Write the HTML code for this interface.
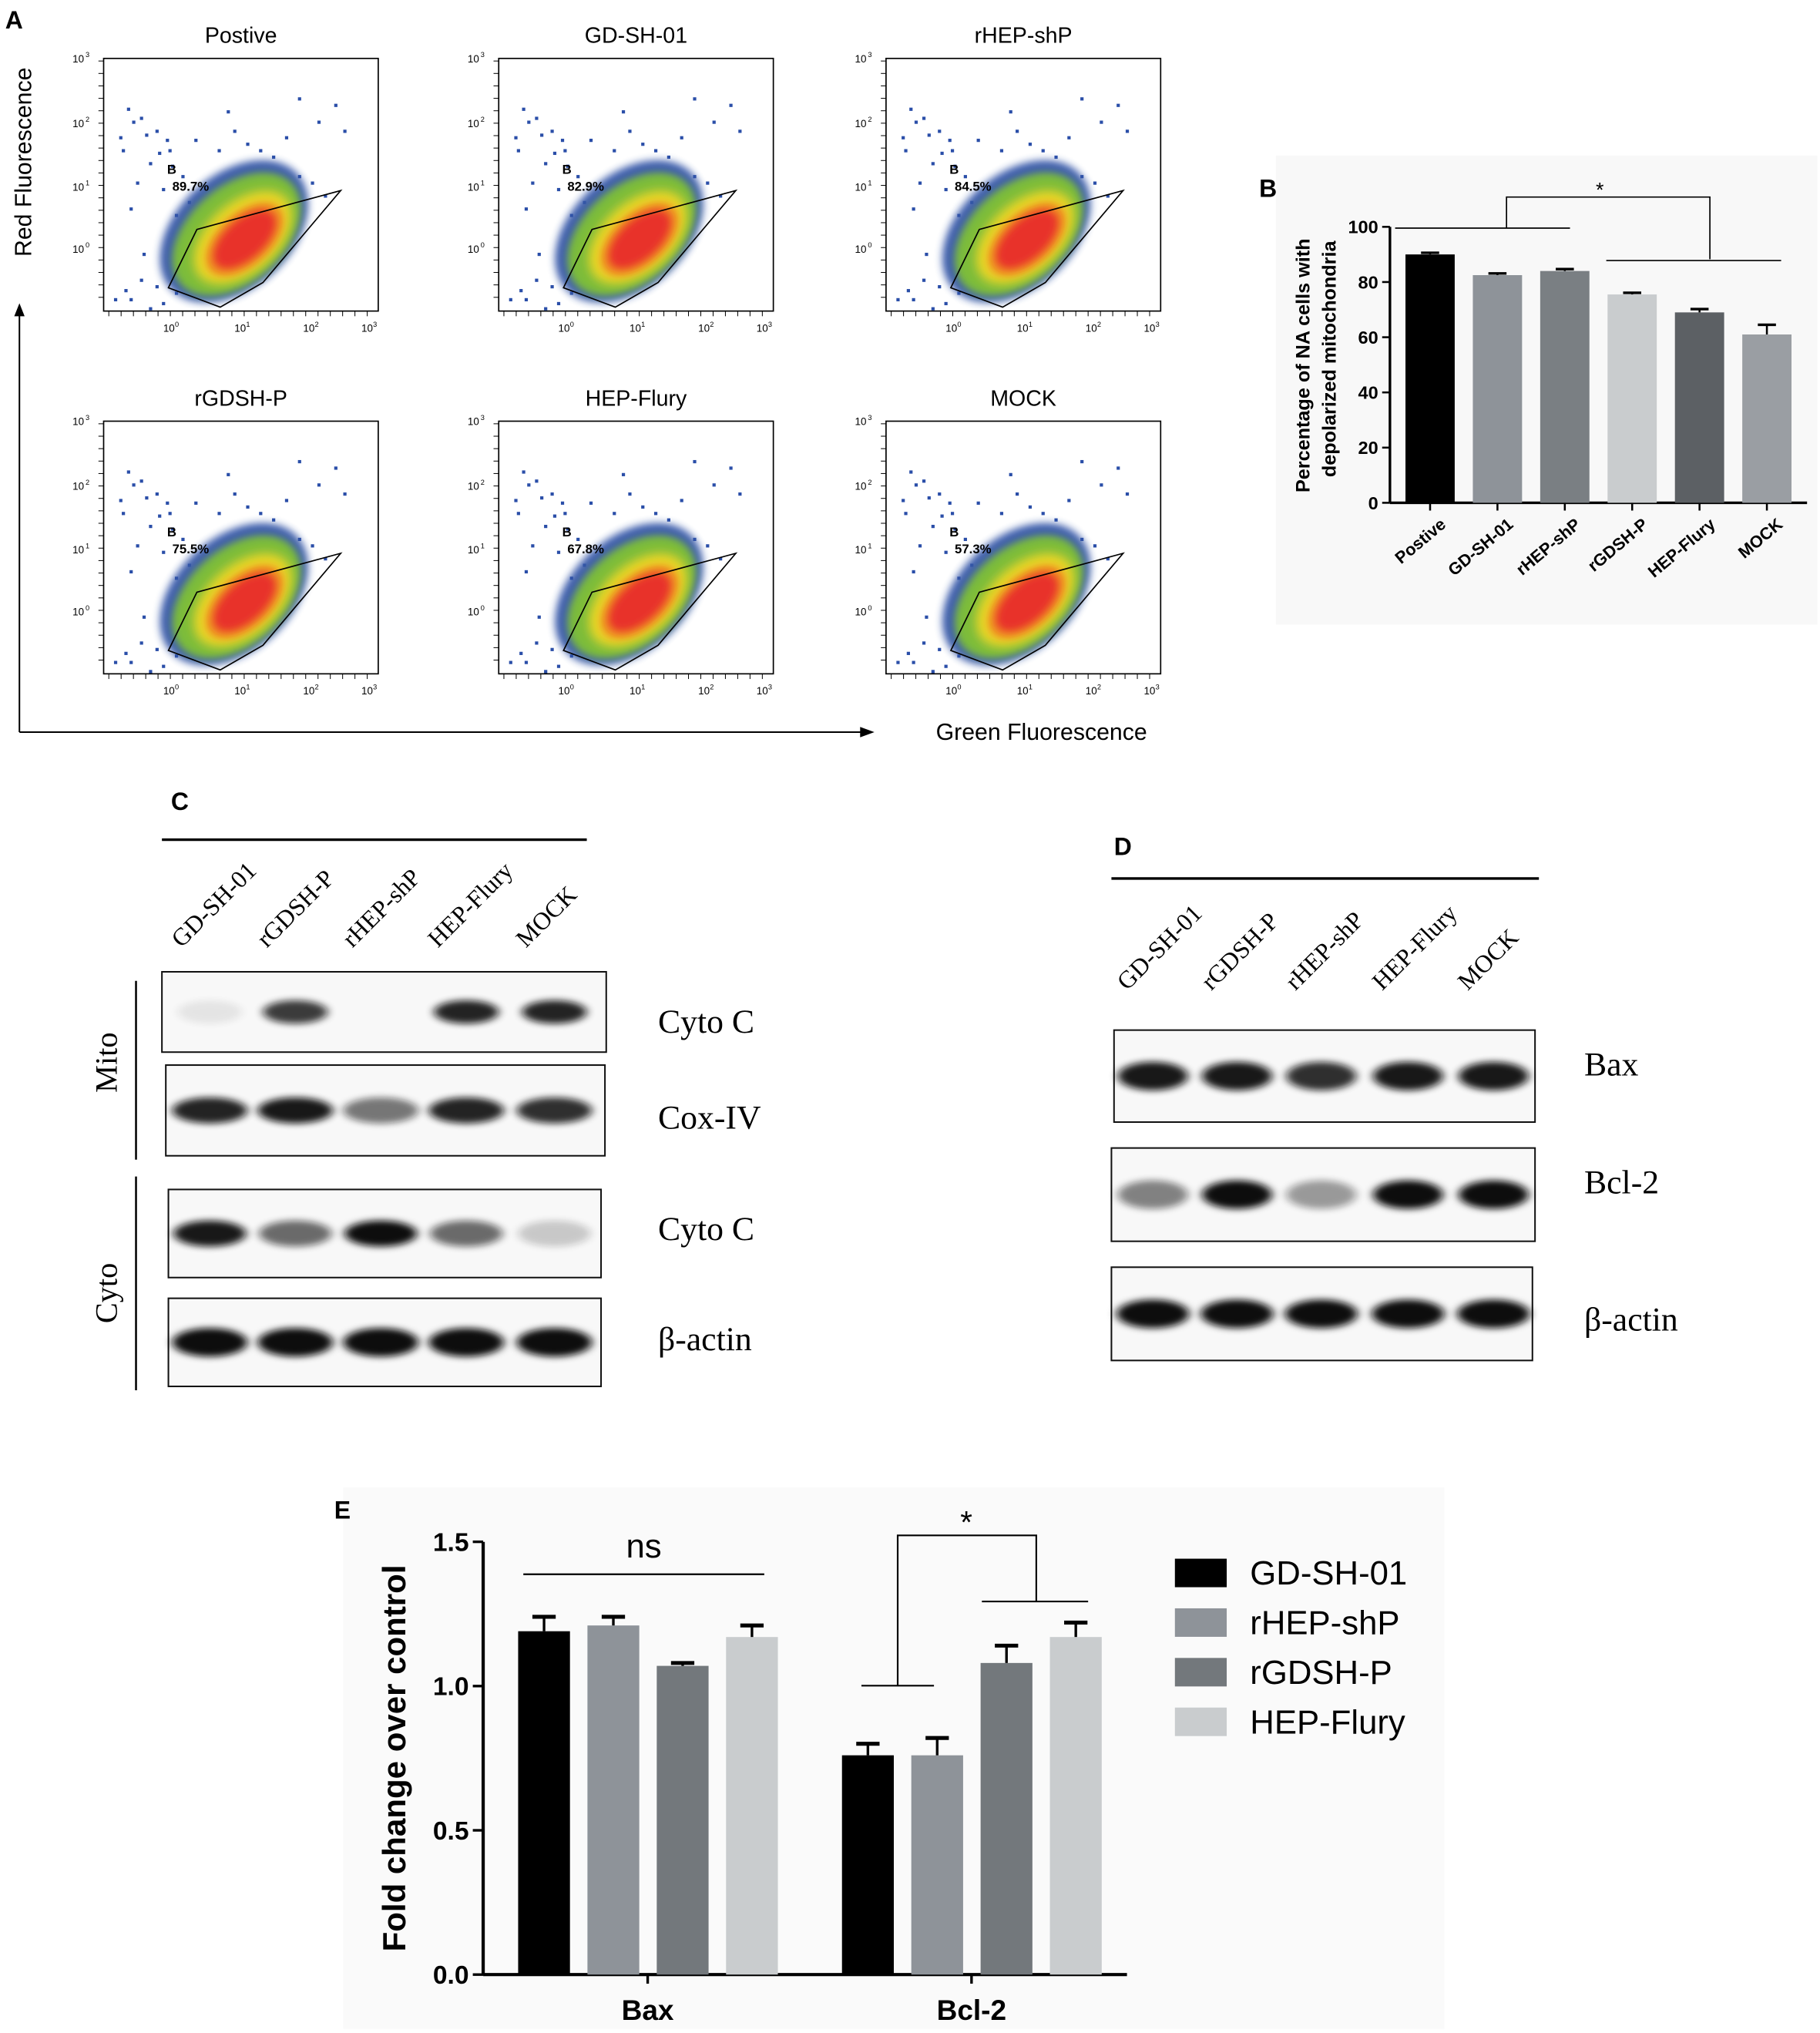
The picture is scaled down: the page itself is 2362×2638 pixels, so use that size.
<!DOCTYPE html>
<html><head><meta charset="utf-8"><style>
html,body{margin:0;padding:0;background:#fff}
svg{display:block}
text{font-family:"Liberation Sans",sans-serif}
.serif{font-family:"Liberation Serif",serif}
</style></head><body>
<svg id="fig" width="2362" height="2638" viewBox="0 0 1405 1569" xmlns="http://www.w3.org/2000/svg">
<defs>
<filter id="blur3" x="-50%" y="-50%" width="200%" height="200%"><feGaussianBlur stdDeviation="3"/></filter>
<filter id="blur4" x="-50%" y="-50%" width="200%" height="200%"><feGaussianBlur stdDeviation="4"/></filter>
<filter id="bandblur" x="-50%" y="-80%" width="200%" height="260%"><feGaussianBlur stdDeviation="3.5 2.5"/></filter>
</defs>
<rect width="1405" height="1569" fill="#fff"/>
<g id="panelA"></g>
<g id="panelB"></g>
<g id="panelC"></g>
<g id="panelD"></g>
<g id="panelE"></g>
</svg>
<script>
const NS="http://www.w3.org/2000/svg";
function mk(parent,tag,attrs,txt){const e=document.createElementNS(NS,tag);for(const k in attrs)e.setAttribute(k,attrs[k]);if(txt!==undefined)e.textContent=txt;parent.appendChild(e);return e;}

// ---------- Panel A data ----------
const flowTitles=["Postive","GD-SH-01","rHEP-shP","rGDSH-P","HEP-Flury","MOCK"];
const flowPercents=["89.7%","82.9%","84.5%","75.5%","67.8%","57.3%"];
const flowOffsetsX=[0,305,604];
const flowOffsetsY=[0,280];

const A=document.getElementById('panelA');
let t=mk(A,'text',{x:4,y:22,'font-size':19,'font-weight':'bold'},'A');

mk(A,'line',{x1:15,y1:565,x2:15,y2:240,stroke:'#000','stroke-width':1.2});
mk(A,'path',{d:'M11,244 L15,234 L19,244 Z',fill:'#000'});
mk(A,'line',{x1:15,y1:565,x2:668,y2:565,stroke:'#000','stroke-width':1.2});
mk(A,'path',{d:'M664,561 L675,565 L664,569 Z',fill:'#000'});
t=mk(A,'text',{x:24,y:125,'font-size':18,'text-anchor':'middle',transform:'rotate(-90 24 125)'},'Red Fluorescence');

t=mk(A,'text',{x:804,y:571,'font-size':18,'text-anchor':'middle'},'Green Fluorescence');


const blueDots=[[18,38],[28,45],[40,55],[50,70],[35,80],[25,95],[45,100],[60,90],[70,62],[95,40],[150,30],[178,35],[185,55],[165,48],[55,120],[30,150],[40,175],[60,170],[90,160],[100,175],[20,185],[35,192],[110,65],[140,60],[20,115],[65,110],[75,140],[12,60],[48,62],[150,90],[22,48],[32,58],[14,70],[42,72],[52,82],[8,185],[16,178],[28,170],[45,188],[55,180],[120,70],[130,75],[100,55],[88,70],[160,95],[170,105],[135,100],[145,110]];
for(let i=0;i<6;i++){
  const ox=flowOffsetsX[i%3], oy=flowOffsetsY[Math.floor(i/3)];
  const g=mk(A,'g',{transform:`translate(${ox},${oy})`});
  
  t=mk(g,'text',{x:186,y:33,'font-size':17,'text-anchor':'middle'},flowTitles[i]);
  
  mk(g,'rect',{x:80,y:45,width:212,height:195,fill:'#fff',stroke:'#000','stroke-width':1});
  for(const d of blueDots){mk(g,'rect',{x:80+d[0],y:45+d[1],width:2.5,height:2.5,fill:'#2a4ea8'});}
  const cl=mk(g,'g',{transform:'rotate(-42 182 180)'});
  mk(cl,'ellipse',{cx:182,cy:178,rx:66,ry:44,fill:'#3557a8',filter:'url(#blur3)',opacity:0.95});
  mk(cl,'ellipse',{cx:182,cy:181,rx:58,ry:37,fill:'#7cbc3a',filter:'url(#blur3)'});
  mk(cl,'ellipse',{cx:184,cy:186,rx:45,ry:27,fill:'#e9d626',filter:'url(#blur4)'});
  mk(cl,'ellipse',{cx:184,cy:188,rx:36,ry:20,fill:'#ef8a22',filter:'url(#blur3)'});
  mk(cl,'ellipse',{cx:184,cy:188,rx:29,ry:15,fill:'#e8302a',filter:'url(#blur3)'});
  mk(g,'polygon',{points:'130,222 152,177 263,147 203,218 170,237',fill:'none',stroke:'#000','stroke-width':1});
  mk(g,'text',{x:129,y:134,'font-size':10,'font-weight':'bold'},'B');
  mk(g,'text',{x:133,y:147,'font-size':10,'font-weight':'bold'},flowPercents[i]);
  const yl=[[45,'3'],[95,'2'],[144,'1'],[192,'0']];
  for(const [y,e] of yl){mk(g,'text',{x:56,y:y+3,'font-size':8},'10');mk(g,'text',{x:66,y:y-1,'font-size':5.5},e);}
  const xl=[[132,'0'],[187,'1'],[240,'2'],[285,'3']];
  for(const [x,e] of xl){mk(g,'text',{x:x-6,y:256,'font-size':8},'10');mk(g,'text',{x:x+3,y:252,'font-size':5.5},e);}
  for(let k=0;k<22;k++){mk(g,'line',{x1:84+k*9.5,y1:240,x2:84+k*9.5,y2:244,stroke:'#000','stroke-width':0.6});}
  for(let k=0;k<20;k++){mk(g,'line',{x1:76,y1:47+k*9.6,x2:80,y2:47+k*9.6,stroke:'#000','stroke-width':0.6});}
}

// ---------- Panel B data ----------
const bCats=["Postive","GD-SH-01","rHEP-shP","rGDSH-P","HEP-Flury","MOCK"];
const bVals=[90,82.5,84,75.5,69,61];
const bErrs=[0.6,0.6,0.7,0.6,1.2,3.5];
const bColors=["#000","#8e9399","#7a7f83","#c9ccce","#5c6064","#9a9ea3"];
const bTicks=[0,20,40,60,80,100];
const B=document.getElementById('panelB');
mk(B,'rect',{x:985,y:120,width:418,height:362,fill:'#f8f8f8'});
t=mk(B,'text',{x:972,y:152,'font-size':19,'font-weight':'bold'},'B');

const bY=v=>388-v*2.13, bX=i=>1085+i*52;
mk(B,'line',{x1:1073,y1:175,x2:1073,y2:388,stroke:'#000','stroke-width':2});
mk(B,'line',{x1:1073,y1:388,x2:1395,y2:388,stroke:'#000','stroke-width':2});
for(const v of bTicks){mk(B,'line',{x1:1067,y1:bY(v),x2:1073,y2:bY(v),stroke:'#000','stroke-width':1.5});
 t=mk(B,'text',{x:1064,y:bY(v)+5,'font-size':14,'font-weight':'bold','text-anchor':'end'},v);
 }
bVals.forEach((v,i)=>{
 const x=bX(i);
 const r=mk(B,'rect',{x:x,y:bY(v),width:38,height:bY(0)-bY(v),fill:bColors[i]});
 
 mk(B,'line',{x1:x+19,y1:bY(v),x2:x+19,y2:bY(v+bErrs[i]),stroke:'#000','stroke-width':1.5});
 mk(B,'line',{x1:x+12,y1:bY(v+bErrs[i]),x2:x+26,y2:bY(v+bErrs[i]),stroke:'#000','stroke-width':2});
 mk(B,'line',{x1:x+19,y1:388,x2:x+19,y2:394,stroke:'#000','stroke-width':1.5});
 t=mk(B,'text',{x:x+32,y:406,'font-size':13,'font-weight':'bold','text-anchor':'end',transform:`rotate(-40 ${x+32} 406)`},bCats[i]);
 
});
t=mk(B,'text',{x:1011,y:282,'font-size':15,'font-weight':'bold','text-anchor':'middle',transform:'rotate(-90 1011 282)'},'Percentage of NA cells with');

mk(B,'text',{x:1031,y:277,'font-size':15,'font-weight':'bold','text-anchor':'middle',transform:'rotate(-90 1031 277)'},'depolarized mitochondria');
mk(B,'path',{d:'M1077,176 L1212,176 M1163,176 L1163,152 L1320,152 L1320,200 M1240,201 L1375,201',fill:'none',stroke:'#000','stroke-width':1});
mk(B,'text',{x:1235,y:152,'font-size':16,'text-anchor':'middle'},'*');

// ---------- Panel C/D blots ----------
const cLanes=["GD-SH-01","rGDSH-P","rHEP-shP","HEP-Flury","MOCK"];
const cMitoCyto=[0.08,0.8,0,0.9,0.9];
const cCoxIV=[0.9,0.95,0.55,0.9,0.85];
const cCytoCyto=[0.95,0.6,1,0.6,0.2];
const cActin=[1,1,1,1,1];
const dBax=[0.95,0.95,0.85,0.95,0.95];
const dBcl2=[0.5,1,0.4,1,1];
const dActin=[1,1,1,1,1];

function blot(parent,x,y,w,h,centers,vals,bw,bh,name){
 const g=mk(parent,'g',{});
 
 mk(g,'rect',{x:x,y:y,width:w,height:h,fill:'#f8f8f8',stroke:'#111','stroke-width':1.2});
 vals.forEach((v,i)=>{ if(v>0) mk(g,'ellipse',{cx:centers[i],cy:y+h/2,rx:bw,ry:bh,fill:'#111',opacity:v,filter:'url(#bandblur)'});});
}
const C=document.getElementById('panelC');
t=mk(C,'text',{x:132,y:625,'font-size':19,'font-weight':'bold'},'C');

mk(C,'line',{x1:125,y1:648,x2:453,y2:648,stroke:'#000','stroke-width':2});
const cX=[162,228,294,360,428];
cLanes.forEach((l,i)=>{t=mk(C,'text',{class:'serif',x:cX[i]-22,y:732,'font-size':19,transform:`rotate(-45 ${cX[i]-22} 732)`},l);
 });
blot(C,125,750,343,62,cX,cMitoCyto,25,9,'blot-mito-cyto-c');
blot(C,128,822,339,70,cX,cCoxIV,29,10,'blot-cox-iv');
blot(C,130,918,334,68,cX,cCytoCyto,28,10,'blot-cyto-cyto-c');
blot(C,130,1002,334,68,cX,cActin,29,11,'blot-beta-actin');
const cLab=[["Cyto C",797],["Cox-IV",871],["Cyto C",957],["β-actin",1042]];
for(const [s,y] of cLab){t=mk(C,'text',{class:'serif',x:508,y:y,'font-size':26},s);}
mk(C,'line',{x1:105,y1:757,x2:105,y2:895,stroke:'#000','stroke-width':1.5});
mk(C,'line',{x1:105,y1:908,x2:105,y2:1073,stroke:'#000','stroke-width':1.5});
mk(C,'text',{class:'serif',x:90,y:820,'font-size':24,'text-anchor':'middle',transform:'rotate(-90 90 820)'},'Mito');
mk(C,'text',{class:'serif',x:90,y:998,'font-size':24,'text-anchor':'middle',transform:'rotate(-90 90 998)'},'Cyto');

const D=document.getElementById('panelD');
t=mk(D,'text',{x:860,y:660,'font-size':19,'font-weight':'bold'},'D');

mk(D,'line',{x1:858,y1:678,x2:1188,y2:678,stroke:'#000','stroke-width':2});
const dX=[890,955,1020,1087,1153];
cLanes.forEach((l,i)=>{t=mk(D,'text',{class:'serif',x:dX[i]-20,y:765,'font-size':19,transform:`rotate(-45 ${dX[i]-20} 765)`},l);
 });
blot(D,860,795,325,71,dX,dBax,27,11,'blot-bax');
blot(D,858,886,327,72,dX,dBcl2,27,11,'blot-bcl-2');
blot(D,858,978,325,72,dX,dActin,28,11,'blot-d-beta-actin');
const dLab=[["Bax",830],["Bcl-2",921],["β-actin",1027]];
for(const [s,y] of dLab){t=mk(D,'text',{class:'serif',x:1223,y:y,'font-size':26},s);}

// ---------- Panel E data ----------
const eGroups=["Bax","Bcl-2"];
const eSeries=["GD-SH-01","rHEP-shP","rGDSH-P","HEP-Flury"];
const eColors=["#000","#8e9399","#73787c","#c9ccce"];
const eBax=[1.19,1.21,1.07,1.17];
const eBcl2=[0.76,0.76,1.08,1.17];
const eBaxErr=[0.05,0.03,0.01,0.04];
const eBcl2Err=[0.04,0.06,0.06,0.05];
const eTicks=[0.0,0.5,1.0,1.5];
const E=document.getElementById('panelE');
mk(E,'rect',{x:265,y:1148,width:850,height:418,fill:'#fafafa'});
t=mk(E,'text',{x:258,y:1172,'font-size':19,'font-weight':'bold'},'E');

const eY=v=>1524-v*222.7;
const eGX=[400,650];
mk(E,'line',{x1:373,y1:1190,x2:373,y2:1524,stroke:'#000','stroke-width':2.5});
mk(E,'line',{x1:373,y1:1524,x2:870,y2:1524,stroke:'#000','stroke-width':2.5});
for(const v of eTicks){mk(E,'line',{x1:365,y1:eY(v),x2:373,y2:eY(v),stroke:'#000','stroke-width':2});
 t=mk(E,'text',{x:362,y:eY(v)+7,'font-size':20,'font-weight':'bold','text-anchor':'end'},v.toFixed(1));
 }
[eBax,eBcl2].forEach((vals,gi)=>{
 const errs=gi?eBcl2Err:eBaxErr;
 vals.forEach((v,i)=>{
  const x=eGX[gi]+i*53.5;
  const r=mk(E,'rect',{x:x,y:eY(v),width:40,height:eY(0)-eY(v),fill:eColors[i]});
  
  mk(E,'line',{x1:x+20,y1:eY(v),x2:x+20,y2:eY(v+errs[i]),stroke:'#000','stroke-width':2});
  mk(E,'line',{x1:x+11,y1:eY(v+errs[i]),x2:x+29,y2:eY(v+errs[i]),stroke:'#000','stroke-width':3});
 });
 mk(E,'line',{x1:eGX[gi]+100,y1:1524,x2:eGX[gi]+100,y2:1531,stroke:'#000','stroke-width':2});
 t=mk(E,'text',{x:eGX[gi]+100,y:1559,'font-size':22,'font-weight':'bold','text-anchor':'middle'},eGroups[gi]);
 
});
t=mk(E,'text',{x:313,y:1357,'font-size':25,'font-weight':'bold','text-anchor':'middle',transform:'rotate(-90 313 1357)'},'Fold change over control');

mk(E,'line',{x1:404,y1:1215,x2:590,y2:1215,stroke:'#000','stroke-width':1.3});
mk(E,'text',{x:497,y:1202,'font-size':26,'text-anchor':'middle'},'ns');
mk(E,'path',{d:'M665,1301 L721,1301 M693,1301 L693,1185 L800,1185 L800,1236 M758,1236 L840,1236',fill:'none',stroke:'#000','stroke-width':1.3});
mk(E,'text',{x:746,y:1183,'font-size':24,'text-anchor':'middle'},'*');
eSeries.forEach((s,i)=>{
 const y=1203+i*38.3;
 const g=mk(E,'g',{});
 
 mk(g,'rect',{x:907,y:y,width:40,height:22,fill:eColors[i]});
 mk(g,'text',{x:965,y:y+20,'font-size':26},s);
});
</script>
</body></html>
